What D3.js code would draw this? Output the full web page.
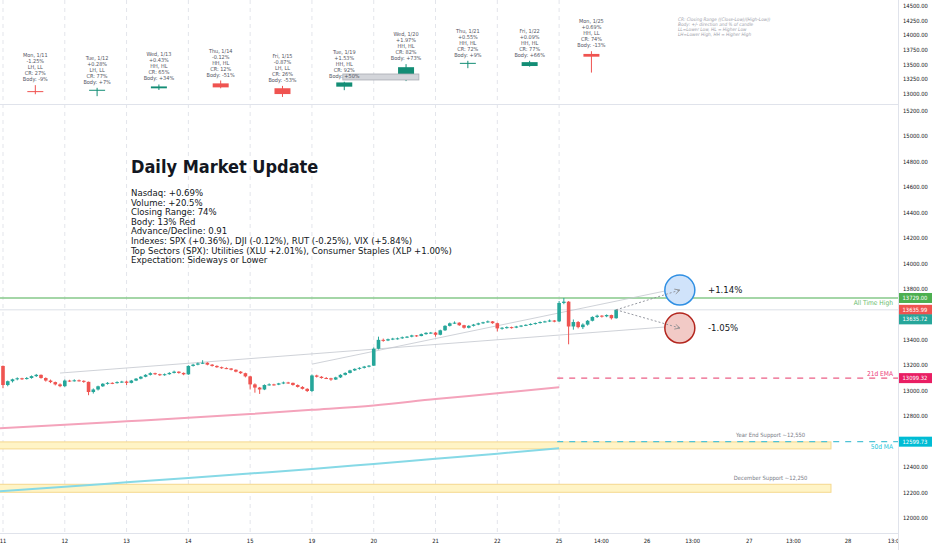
<!DOCTYPE html>
<html>
<head>
<meta charset="utf-8">
<script src="https://cdn.jsdelivr.net/npm/d3@7"></script>
<style>
  body { margin: 0; background: #fff; }
  svg { display: block; font-family: "DejaVu Sans Condensed", "DejaVu Sans", sans-serif; }
</style>
</head>
<body>
<svg id="chart" width="932" height="550"></svg>
<script>
// 30 minute bars, [open, high, low, close], one array per session
const jan8 = [[13190, 13210, 13185, 13202]]
const jan11 = [
  [13195, 13198, 13020, 13045], [13045, 13080, 13035, 13075], [13075, 13095, 13065, 13090],
  [13090, 13105, 13082, 13098], [13098, 13102, 13085, 13092], [13092, 13108, 13088, 13100],
  [13100, 13120, 13095, 13115], [13115, 13132, 13108, 13125], [13125, 13128, 13095, 13100],
  [13100, 13105, 13072, 13080], [13080, 13088, 13060, 13068], [13068, 13072, 13042, 13050],
  [13050, 13058, 13028, 13036]]
const jan12 = [
  [13036, 13088, 13030, 13080], [13080, 13086, 13070, 13076], [13076, 13090, 13072, 13082],
  [13082, 13088, 13072, 13078], [13078, 13082, 13062, 13070], [13070, 13072, 12965, 12990],
  [12990, 13018, 12978, 13010], [13010, 13040, 13002, 13035], [13035, 13060, 13030, 13055],
  [13055, 13068, 13048, 13062], [13062, 13066, 13052, 13060], [13060, 13074, 13056, 13068],
  [13068, 13078, 13062, 13072]]
const jan13 = [
  [13072, 13080, 13045, 13062], [13062, 13085, 13058, 13080], [13080, 13100, 13076, 13095],
  [13095, 13115, 13090, 13110], [13110, 13130, 13106, 13125], [13125, 13145, 13120, 13138],
  [13138, 13142, 13124, 13130], [13130, 13134, 13116, 13122], [13122, 13136, 13118, 13130],
  [13130, 13146, 13126, 13140], [13140, 13158, 13136, 13150], [13150, 13153, 13134, 13140],
  [13140, 13144, 13122, 13129]]
const jan14 = [
  [13129, 13200, 13125, 13195], [13195, 13212, 13190, 13205], [13205, 13222, 13200, 13215],
  [13215, 13240, 13210, 13220], [13220, 13224, 13200, 13205], [13205, 13210, 13190, 13195],
  [13195, 13200, 13180, 13185], [13185, 13190, 13172, 13178], [13178, 13184, 13170, 13175],
  [13175, 13178, 13160, 13165], [13165, 13168, 13145, 13150], [13150, 13155, 13132, 13138],
  [13138, 13142, 13105, 13113]]
const jan15 = [
  [13113, 13118, 13010, 13050], [13050, 13058, 12985, 13025], [13025, 13030, 12975, 13010],
  [13010, 13050, 13005, 13045], [13045, 13058, 13040, 13050], [13050, 13055, 13040, 13048],
  [13048, 13062, 13044, 13058], [13058, 13072, 13052, 13065], [13065, 13070, 13055, 13062],
  [13062, 13064, 13040, 13045], [13045, 13050, 13025, 13030], [13030, 13036, 13010, 13015],
  [13015, 13020, 12990, 12998]]
const jan19 = [
  [12998, 13128, 12990, 13120], [13120, 13126, 13104, 13110], [13110, 13115, 13095, 13100],
  [13100, 13108, 13092, 13098], [13098, 13102, 13078, 13088], [13088, 13110, 13085, 13105],
  [13105, 13130, 13100, 13125], [13125, 13145, 13120, 13140], [13140, 13165, 13136, 13160],
  [13160, 13176, 13155, 13172], [13172, 13185, 13166, 13180], [13180, 13195, 13175, 13190],
  [13190, 13202, 13184, 13197]]
const jan20 = [
  [13197, 13340, 13195, 13330], [13330, 13425, 13325, 13400], [13400, 13410, 13385, 13395],
  [13395, 13410, 13390, 13405], [13405, 13416, 13398, 13410], [13410, 13418, 13402, 13412],
  [13412, 13426, 13408, 13420], [13420, 13430, 13414, 13425], [13425, 13440, 13420, 13435],
  [13435, 13438, 13424, 13430], [13430, 13450, 13428, 13445], [13445, 13460, 13440, 13455],
  [13455, 13462, 13448, 13457]]
const jan21 = [
  [13457, 13462, 13425, 13440], [13440, 13480, 13436, 13475], [13475, 13515, 13470, 13510],
  [13510, 13536, 13505, 13530], [13530, 13545, 13525, 13535], [13535, 13538, 13510, 13515],
  [13515, 13518, 13488, 13495], [13495, 13515, 13490, 13510], [13510, 13525, 13505, 13520],
  [13520, 13535, 13515, 13530], [13530, 13542, 13525, 13538], [13538, 13552, 13534, 13545],
  [13545, 13548, 13526, 13531]]
const jan22 = [
  [13531, 13535, 13466, 13490], [13490, 13500, 13480, 13495], [13495, 13506, 13488, 13500],
  [13500, 13504, 13488, 13496], [13496, 13510, 13492, 13505], [13505, 13516, 13500, 13512],
  [13512, 13522, 13508, 13518], [13518, 13530, 13514, 13525], [13525, 13536, 13520, 13532],
  [13532, 13545, 13528, 13540], [13540, 13550, 13536, 13545], [13545, 13560, 13540, 13552],
  [13552, 13556, 13538, 13543]]
const jan25 = [
  [13545, 13705, 13540, 13690], [13690, 13729, 13680, 13700], [13700, 13705, 13365, 13505],
  [13505, 13560, 13480, 13540], [13540, 13548, 13490, 13500], [13500, 13530, 13485, 13520],
  [13520, 13556, 13512, 13550], [13550, 13585, 13545, 13580], [13580, 13598, 13572, 13590],
  [13590, 13594, 13575, 13585], [13585, 13600, 13578, 13595], [13595, 13598, 13560, 13570],
  [13570, 13640, 13566, 13636]]

// daily summary (top pane)
const dayLabels = ['Mon, 1/11', 'Tue, 1/12', 'Wed, 1/13', 'Thu, 1/14', 'Fri, 1/15', 'Tue, 1/19', 'Wed, 1/20', 'Thu, 1/21', 'Fri, 1/22', 'Mon, 1/25']
const dayChange = ['-1.25%', '+0.28%', '+0.43%', '-0.12%', '-0.87%', '+1.53%', '+1.97%', '+0.55%', '+0.09%', '+0.69%']
const dayHighLow = ['LH, LL', 'LH, LL', 'HH, HL', 'HH, HL', 'LH, LL', 'HH, HL', 'HH, HL', 'HH, HL', 'HH, HL', 'HH, LL']
const dayCR = ['27%', '77%', '65%', '12%', '26%', '92%', '82%', '72%', '77%', '74%']
const dayBody = ['-9%', '+7%', '+34%', '-51%', '-53%', '+50%', '+73%', '+9%', '+66%', '-13%']
const dailyOpen = [13049, 13062, 13097, 13181, 13098, 13125, 13246, 13520, 13477, 13683]
const dailyHigh = [13151, 13105, 13162, 13230, 13138, 13209, 13509, 13566, 13566, 13729]
const dailyLow = [12996, 12963, 13069, 13097, 12950, 13065, 13220, 13440, 13466, 13365]
const dailyClose = [13036, 13072, 13129, 13113, 12999, 13197, 13457, 13531, 13543, 13636]

const legendLines = [
  'CR: Closing Range ((Close-Low)/(High-Low))',
  'Body: +/- direction and % of candle',
  'LL=Lower Low, HL = Higher Low',
  'LH=Lower High, HH = Higher High']

// x axis: bar index -> label
const dayTickIdx = [0, 13, 26, 39, 52, 65, 78, 91, 104, 117]
const dayTickLabels = ['11', '12', '13', '14', '15', '19', '20', '21', '22', '25']
const futureTickIdx = [125.9, 135.5, 145.1, 157, 166.3, 177.8, 187.7]
const futureTickLabels = ['14:00', '26', '13:00', '27', '13:00', '28', '13:00']

// moving averages, sampled at session starts
const maIdx = [-1, 13, 26, 39, 52, 65, 78, 91, 104, 117]
const ema21 = [12705, 12733, 12760, 12787, 12817, 12850, 12885, 12935, 12980, 13028]
const sma50 = [12210, 12245, 12280, 12315, 12350, 12385, 12425, 12465, 12505, 12548]

const levelValues = [13729.00, 13099.32, 12599.73]
const levelNames = ['All Time High', '21d EMA', '50d MA']
const lastPrices = [13635.99, 13635.72]

const supportNames = ['Year End Support ~12,550', 'December Support ~12,250']
const supportLow = [12543, 12202]
const supportHigh = [12598, 12265]

const trendFrom = [[12, 13139], [65, 13209]]
const trendTo = [[139.3, 13501], [139.3, 13784]]
const projPct = [1.14, -1.05]

const titleText = 'Daily Market Update'
const notes = [
  'Nasdaq: +0.69%',
  'Volume: +20.5%',
  'Closing Range: 74%',
  'Body: 13% Red',
  'Advance/Decline: 0.91',
  'Indexes: SPX (+0.36%), DJI (-0.12%), RUT (-0.25%), VIX (+5.84%)',
  'Top Sectors (SPX): Utilities (XLU +2.01%), Consumer Staples (XLP +1.00%)',
  'Expectation: Sideways or Lower']

const up = '#26a69a', down = '#ef5350'
const plotRight = 898

const svg = d3.select('#chart')
svg.append('rect').attr('width', 932).attr('height', 550).attr('fill', '#fff')

const defs = svg.append('defs')
defs.append('clipPath').attr('id', 'clipTop').append('rect').attr('x', 0).attr('y', 0).attr('width', plotRight).attr('height', 104)
defs.append('clipPath').attr('id', 'clipMain').append('rect').attr('x', 0).attr('y', 105).attr('width', plotRight).attr('height', 428)
defs.append('marker').attr('id', 'arrow').attr('viewBox', '0 0 10 10').attr('refX', 9).attr('refY', 5)
  .attr('markerWidth', 7).attr('markerHeight', 7).attr('orient', 'auto')
  .append('path').attr('d', 'M1,1 L9,5 L1,9').attr('fill', 'none').attr('stroke', '#888').attr('stroke-width', 1.2)

const x = d3.scaleLinear().domain([-0.63, 188.3]).range([0, plotRight])
const yTop = d3.scaleLinear().domain([13000, 14500]).range([94, 6])
const y = d3.scaleLinear().domain([12000, 15200]).range([518, 110.8])

const bars = [].concat(jan8, jan11, jan12, jan13, jan14, jan15, jan19, jan20, jan21, jan22, jan25)
  .map((d, k) => ({ i: k - 1, o: d[0], h: d[1], l: d[2], c: d[3] }))

// grid
const grid = svg.append('g')
grid.selectAll('line').data(dayTickIdx).join('line')
  .attr('x1', d => x(d)).attr('x2', d => x(d)).attr('y1', 0).attr('y2', 533)
  .attr('stroke', '#e3e5eb').attr('stroke-dasharray', '4,4').attr('stroke-width', 1)

// ---------- top pane ----------
const topPane = svg.append('g').attr('clip-path', 'url(#clipTop)')
const daily = dayLabels.map((d, k) => ({
  k, i: dayTickIdx[k] + 6.8, o: dailyOpen[k], h: dailyHigh[k], l: dailyLow[k], c: dailyClose[k]
}))
const topUp = '#138d75'
topPane.selectAll('line.dw').data(daily).join('line')
  .attr('x1', d => x(d.i)).attr('x2', d => x(d.i))
  .attr('y1', d => yTop(d.h)).attr('y2', d => yTop(d.l))
  .attr('stroke', d => d.c >= d.o ? topUp : down).attr('stroke-width', 1)
topPane.selectAll('rect.db').data(daily).join('rect')
  .attr('x', d => x(d.i) - 8).attr('width', 16)
  .attr('y', d => yTop(Math.max(d.o, d.c)))
  .attr('height', d => Math.max(1, Math.abs(yTop(d.o) - yTop(d.c))))
  .attr('fill', d => d.c >= d.o ? topUp : down)

// stray label box drawn over Wed 1/20
topPane.append('rect')
  .attr('x', x(71.5)).attr('width', x(87.5) - x(71.5))
  .attr('y', yTop(13341)).attr('height', yTop(13239) - yTop(13341))
  .attr('fill', '#d3d5da').attr('stroke', '#a9acb4').attr('stroke-width', 0.8)

daily.forEach(d => {
  const lines = [dayLabels[d.k], dayChange[d.k], dayHighLow[d.k], 'CR: ' + dayCR[d.k], 'Body: ' + dayBody[d.k]]
  const base = yTop(d.h) - 4
  topPane.append('g').selectAll('text').data(lines).join('text')
    .attr('x', x(d.i)).attr('y', (t, j) => base - (lines.length - 1 - j) * 6)
    .attr('text-anchor', 'middle').attr('font-size', 5.5).attr('fill', '#50535e')
    .text(t => t)
})

svg.append('g').selectAll('text').data(legendLines).join('text')
  .attr('x', 678).attr('y', (d, j) => 20.5 + j * 5)
  .attr('font-size', 4.7).attr('font-style', 'italic').attr('fill', '#9ea1aa')
  .text(d => d)

// ---------- main pane ----------
const main = svg.append('g').attr('clip-path', 'url(#clipMain)')

// support zones
supportNames.forEach((n, k) => {
  main.append('rect')
    .attr('x', -2).attr('width', x(174.2) + 2)
    .attr('y', y(supportHigh[k])).attr('height', y(supportLow[k]) - y(supportHigh[k]))
    .attr('fill', '#fff4c6').attr('stroke', '#f5d88e').attr('stroke-width', 1)
  main.append('text').attr('x', x(161.5)).attr('y', y(supportHigh[k]) - 4.5)
    .attr('text-anchor', 'middle').attr('font-size', 5.8).attr('fill', '#787b86').text(n)
})

// moving averages
const maLine = d3.line().x(d => x(d[0])).y(d => y(d[1])).curve(d3.curveMonotoneX)
main.append('path').attr('d', maLine(maIdx.map((d, k) => [d, sma50[k]])))
  .attr('fill', 'none').attr('stroke', '#86d9e6').attr('stroke-width', 2)
main.append('path').attr('d', maLine(maIdx.map((d, k) => [d, ema21[k]])))
  .attr('fill', 'none').attr('stroke', '#f4a3bb').attr('stroke-width', 2)

// level lines
main.append('line').attr('x1', 0).attr('x2', plotRight)
  .attr('y1', y(levelValues[0])).attr('y2', y(levelValues[0]))
  .attr('stroke', '#86c98a').attr('stroke-width', 1.4)
main.append('line').attr('x1', 0).attr('x2', plotRight)
  .attr('y1', y(lastPrices[0])).attr('y2', y(lastPrices[0]))
  .attr('stroke', '#d3d8e2').attr('stroke-width', 0.8)
main.append('line').attr('x1', x(116.6)).attr('x2', plotRight)
  .attr('y1', y(levelValues[1])).attr('y2', y(levelValues[1]))
  .attr('stroke', '#ec5f86').attr('stroke-width', 1.2).attr('stroke-dasharray', '6,6')
main.append('line').attr('x1', x(116.6)).attr('x2', plotRight)
  .attr('y1', y(levelValues[2])).attr('y2', y(levelValues[2]))
  .attr('stroke', '#4fc3d6').attr('stroke-width', 1.2).attr('stroke-dasharray', '6,6')

const levelColors = ['#66bb6a', '#ec407a', '#26c6da']
const levelDy = [7, -2.5, 7]
levelNames.forEach((n, k) => {
  main.append('text').attr('x', 893).attr('y', y(levelValues[k]) + levelDy[k])
    .attr('text-anchor', 'end').attr('font-size', 6.6).attr('fill', levelColors[k]).text(n)
})

// trend lines
trendFrom.forEach((f, k) => {
  main.append('line')
    .attr('x1', x(f[0])).attr('y1', y(f[1])).attr('x2', x(trendTo[k][0])).attr('y2', y(trendTo[k][1]))
    .attr('stroke', '#c3c6ce').attr('stroke-width', 0.8)
})

// candles
const bw = 3.6
main.selectAll('line.wick').data(bars).join('line')
  .attr('x1', d => x(d.i)).attr('x2', d => x(d.i))
  .attr('y1', d => y(d.h)).attr('y2', d => y(d.l))
  .attr('stroke', d => d.c >= d.o ? up : down).attr('stroke-width', 1)
main.selectAll('rect.body').data(bars).join('rect')
  .attr('x', d => x(d.i) - bw / 2).attr('width', bw)
  .attr('y', d => y(Math.max(d.o, d.c)))
  .attr('height', d => Math.max(1, Math.abs(y(d.o) - y(d.c))))
  .attr('fill', d => d.c >= d.o ? up : down)

// projections
const last = bars[bars.length - 1]
const projColors = [['#d0e3fa', '#2f8fe3'], ['#f2cac6', '#b3261e']]
projPct.forEach((p, k) => {
  const target = last.c * (1 + p / 100)
  const cx = x(142.4), cy = y(target)
  main.append('circle').attr('cx', cx).attr('cy', cy).attr('r', 15)
    .attr('fill', projColors[k][0]).attr('stroke', projColors[k][1]).attr('stroke-width', 1.5)
  main.append('line').attr('x1', x(last.i)).attr('y1', y(last.c)).attr('x2', cx).attr('y2', cy)
    .attr('stroke', '#8a8d96').attr('stroke-width', 0.9).attr('stroke-dasharray', '2,2')
    .attr('marker-end', 'url(#arrow)')
  main.append('text').attr('x', 708).attr('y', cy).attr('dy', '0.35em')
    .attr('font-size', 9.5).attr('fill', '#131722')
    .text((p > 0 ? '+' : '') + p.toFixed(2) + '%')
})

// text block
svg.append('text').attr('x', 131).attr('y', 172.5)
  .attr('font-size', 18).attr('font-weight', 'bold').attr('fill', '#131722').text(titleText)
svg.append('g').selectAll('text').data(notes).join('text')
  .attr('x', 131).attr('y', (d, j) => 196 + j * 9.62)
  .attr('font-size', 9.5).attr('fill', '#131722').text(d => d)

// ---------- axes ----------
svg.append('line').attr('x1', 0).attr('x2', plotRight).attr('y1', 104.5).attr('y2', 104.5).attr('stroke', '#e0e3eb')
svg.append('line').attr('x1', 0).attr('x2', 932).attr('y1', 533.5).attr('y2', 533.5).attr('stroke', '#e0e3eb')

const xAxis = svg.append('g').attr('font-size', 5.8).attr('fill', '#131722').attr('text-anchor', 'middle')
xAxis.selectAll('text.d').data(dayTickIdx).join('text').attr('class', 'd').attr('x', d => x(d)).attr('y', 543)
  .text((d, k) => dayTickLabels[k])
xAxis.selectAll('text.f').data(futureTickIdx).join('text').attr('class', 'f').attr('x', d => x(d)).attr('y', 543)
  .text((d, k) => futureTickLabels[k])

svg.append('rect').attr('x', plotRight).attr('y', 0).attr('width', 34).attr('height', 550).attr('fill', '#fff')
svg.append('line').attr('x1', plotRight + 0.5).attr('x2', plotRight + 0.5).attr('y1', 0).attr('y2', 550).attr('stroke', '#e0e3eb')

const yAxisTop = svg.append('g').attr('font-size', 5.8).attr('fill', '#131722')
yAxisTop.selectAll('text').data(d3.range(13000, 14501, 250)).join('text')
  .attr('x', 903).attr('y', d => yTop(d)).attr('dy', '0.35em').text(d => d.toFixed(2))
const yAxisMain = svg.append('g').attr('font-size', 5.8).attr('fill', '#131722')
yAxisMain.selectAll('text').data(d3.range(12000, 15201, 200)).join('text')
  .attr('x', 903).attr('y', d => y(d)).attr('dy', '0.35em').text(d => d.toFixed(2))

// price tags on the axis
const tags = [
  { v: levelValues[0], c: '#4caf50', dy: 0 },
  { v: lastPrices[0], c: '#ef5350', dy: 0 },
  { v: lastPrices[1], c: '#26a69a', dy: 9.5 },
  { v: levelValues[1], c: '#e91e63', dy: 0 },
  { v: levelValues[2], c: '#00bcd4', dy: 0 }]
tags.forEach(t => {
  const ty = y(t.v) + t.dy
  svg.append('rect').attr('x', plotRight + 1).attr('y', ty - 5).attr('width', 33).attr('height', 10).attr('fill', t.c)
  svg.append('text').attr('x', 915).attr('y', ty).attr('dy', '0.35em').attr('text-anchor', 'middle')
    .attr('font-size', 5.8).attr('fill', '#fff').text(t.v.toFixed(2))
})
</script>
</body>
</html>
